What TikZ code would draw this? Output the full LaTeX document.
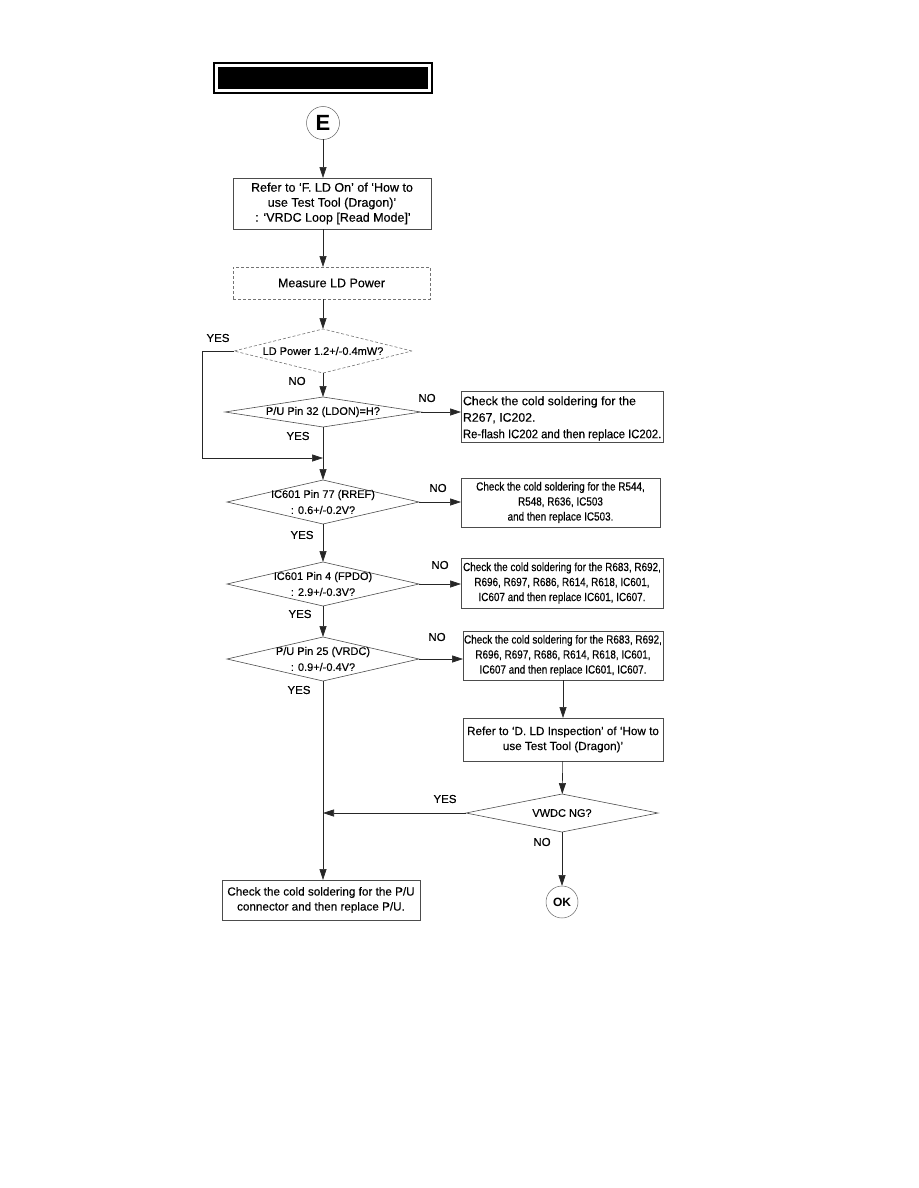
\documentclass[tikz,border=0pt]{standalone}
\usepackage{fontspec}
\setmainfont{Liberation Sans}
\newfontfamily\hv[FakeBold=0.35,Ligatures=TeX]{Liberation Sans}
\newfontfamily\condf[FakeStretch=0.84,FakeBold=0.35,Ligatures=TeX]{Liberation Sans}
\newfontfamily\condg[FakeStretch=0.915,FakeBold=0.35,Ligatures=TeX]{Liberation Sans}
\usetikzlibrary{arrows.meta,shapes.geometric}
\begin{document}
\begin{tikzpicture}[x=1pt,y=-1pt,
  line width=0.6pt,
  every node/.style={inner sep=0pt, outer sep=0pt},
  arr/.style={-{Triangle[length=11pt,width=7pt]}},
  ln/.style={draw=black!85},
  boxx/.style={draw=black!70, rectangle, align=center, font=\hv\fontsize{11.7}{15}\selectfont},
  bigbox/.style={draw=black!70, rectangle, align=center, font=\hv\fontsize{12.5}{15}\selectfont},
  cbox/.style={draw=black!70, rectangle, align=center, font=\condf\fontsize{11.8}{15}\selectfont},
  dia/.style={draw=black!70, diamond, inner sep=0pt},
  dtxt/.style={align=center, font=\hv\fontsize{11}{16}\selectfont},
  lbl/.style={font=\hv\fontsize{11.5}{12}\selectfont},
  circ/.style={draw=black!60, circle, line width=0.5pt}
]
\useasboundingbox (0,0) rectangle (918,1188);
% title bar
\node[draw, line width=1.3pt, fill=white, minimum width=218, minimum height=30] (title) at (323,78) {};
\node[fill=black, minimum width=210, minimum height=22] (titlefill) at (323,78) {};
% start circle
\node[circ, minimum size=33] (E) at (323,123) {\fontsize{22}{22}\selectfont\bfseries E};
% boxes
\node[bigbox, minimum width=198, minimum height=51] (b1) at (332,203.5)
  {Refer to ‘F. LD On’ of ‘How to\\use Test Tool (Dragon)’\\\,: ‘VRDC Loop [Read Mode]’};
\node[bigbox, draw=black!55, dashed, dash pattern=on 3pt off 2pt, minimum width=197, minimum height=32] (b2) at (331.5,283)
  {Measure LD Power};
% diamonds
\node[dia, draw=black!55, dashed, dash pattern=on 3pt off 2pt, minimum width=178, minimum height=44] (d1) at (323,351) {};
\node[dtxt] (d1t) at (d1.center) {LD Power 1.2+/-0.4mW?};
\node[dia, minimum width=196, minimum height=30] (d2) at (323,412) {};
\node[dtxt] (d2t) at (d2.center) {P/U Pin 32 (LDON)=H?};
\node[dia, minimum width=192, minimum height=44] (d3) at (323,502) {};
\node[dtxt] (d3t) at (d3.center) {IC601 Pin 77 (RREF)\\: 0.6+/-0.2V?};
\node[dia, minimum width=192, minimum height=44] (d4) at (323,584) {};
\node[dtxt] (d4t) at (d4.center) {IC601 Pin 4 (FPDO)\\: 2.9+/-0.3V?};
\node[dia, minimum width=192, minimum height=44] (d5) at (323,659) {};
\node[dtxt] (d5t) at (d5.center) {P/U Pin 25 (VRDC)\\: 0.9+/-0.4V?};
\node[dia, minimum width=192, minimum height=38] (d6) at (562,813) {};
\node[dtxt] (d6t) at (d6.center) {VWDC NG?};
% right boxes
\node[draw=black!70, rectangle, minimum width=202, minimum height=51] (r1) at (562,416.5) {};
\node[anchor=west, align=left, font=\hv\fontsize{12.3}{16.5}\selectfont] (r1t) at ([xshift=2pt,yshift=-2pt]r1.west)
  {Check the cold soldering for the\\R267, IC202.\\{\condg Re-flash IC202 and then replace IC202.}};
\node[cbox, minimum width=199, minimum height=49] (r2) at (560.5,502.5)
  {Check the cold soldering for the R544,\\R548, R636, IC503\\and then replace IC503.};
\node[cbox, minimum width=202, minimum height=50] (r3) at (562,583)
  {Check the cold soldering for the R683, R692,\\R696, R697, R686, R614, R618, IC601,\\IC607 and then replace IC601, IC607.};
\node[cbox, minimum width=200, minimum height=49] (r4) at (563,655.5)
  {Check the cold soldering for the R683, R692,\\R696, R697, R686, R614, R618, IC601,\\IC607 and then replace IC601, IC607.};
\node[boxx, minimum width=200, minimum height=43] (r5) at (563,739.5)
  {Refer to ‘D. LD Inspection’ of ‘How to\\use Test Tool (Dragon)’};
\node[boxx, minimum width=198, minimum height=40] (b6) at (321,900)
  {Check the cold soldering for the P/U\\connector and then replace P/U.};
\node[circ, minimum size=32] (ok) at (562,902) {\fontsize{12}{12}\selectfont\bfseries OK};
% helper coordinates
\coordinate (m1) at (323,458);
\coordinate (yl) at (202,351);
\coordinate (yb) at (202,458);
\coordinate (m2) at (323,813);
% connectors
\draw[ln,arr] (E.south) -- (E.south |- b1.north);
\draw[ln,arr] (E.south |- b1.south) -- (E.south |- b2.north);
\draw[ln,arr] (E.south |- b2.south) -- (d1.north);
\draw[ln,arr] (d1) -- (d2);
\draw[ln] (d1.west) -- (yl) -- (yb);
\draw[ln,arr] (yb) -- (m1);
\draw[ln,arr] (d2.east) -- (d2.east -| r1.west);
\draw[ln] (d2.south) -- (m1);
\draw[ln,arr] (m1) -- (d3.north);
\draw[ln,arr] (d3.east) -- (d3.east -| r2.west);
\draw[ln,arr] (d3) -- (d4);
\draw[ln,arr] (d4.east) -- (d4.east -| r3.west);
\draw[ln,arr] (d4) -- (d5);
\draw[ln,arr] (d5.east) -- (d5.east -| r4.west);
\draw[ln,arr] (d5.south) -- (d5.south |- b6.north);
\draw[ln,arr] (r4) -- (r5);
\draw[ln,arr] (r5) -- (d6);
\draw[ln,arr] (d6.west) -- (m2);
\draw[ln,arr] (d6) -- (ok);
% labels
\node[lbl] (l1) at (218,338) {YES};
\node[lbl] (l2) at (297,381) {NO};
\node[lbl] (l3) at (427,398) {NO};
\node[lbl] (l4) at (298,436) {YES};
\node[lbl] (l5) at (438,488) {NO};
\node[lbl] (l6) at (302,535) {YES};
\node[lbl] (l7) at (440,565) {NO};
\node[lbl] (l8) at (300,614) {YES};
\node[lbl] (l9) at (437,637) {NO};
\node[lbl] (l10) at (299,690) {YES};
\node[lbl] (l11) at (445,799) {YES};
\node[lbl] (l12) at (542,842) {NO};
\end{tikzpicture}
\end{document}
